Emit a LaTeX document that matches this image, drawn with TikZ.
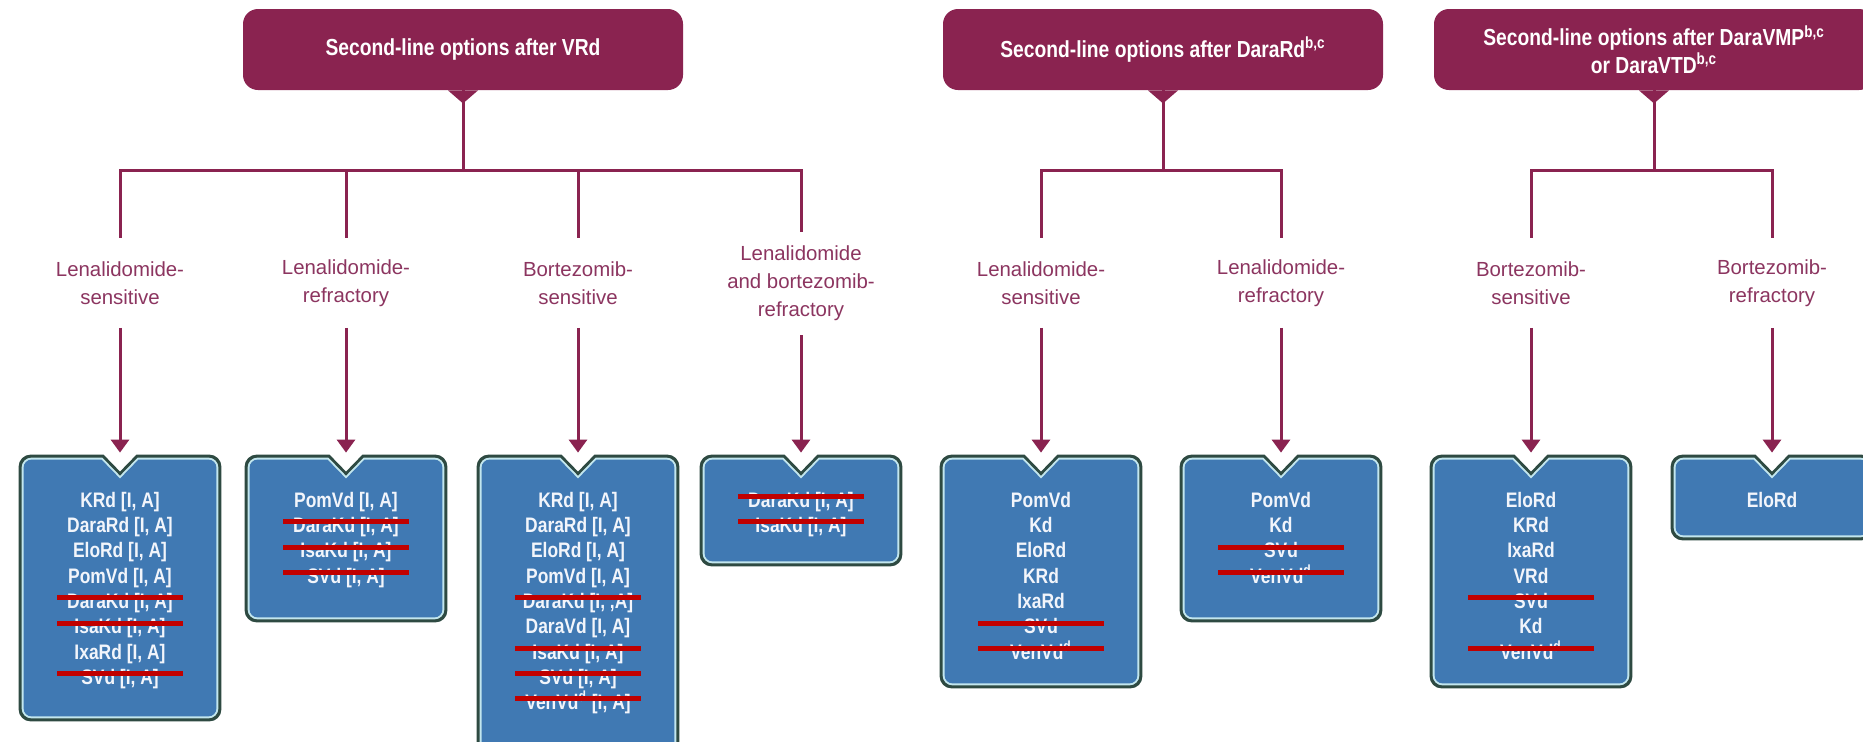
\documentclass[tikz,border=0pt]{standalone}
\usepackage{fontspec}
\setmainfont{Liberation Sans}[FakeStretch=0.83]
\newfontfamily\labfont{Liberation Sans}
\usetikzlibrary{arrows.meta}
\definecolor{maroon}{HTML}{8A2350}
\definecolor{labc}{HTML}{8C3560}
\definecolor{boxblue}{HTML}{4079B3}
\definecolor{boxedge}{HTML}{2E4A42}
\definecolor{boxlight}{HTML}{C2E6EE}
\definecolor{boxtxt}{HTML}{F2F5FB}
\definecolor{strikered}{HTML}{C00000}
\newcommand\strk[1]{\ooalign{\hfil#1\hfil\cr\hfil\textcolor{strikered}{\rule[4.1pt]{63pt}{2.5pt}}\hfil\cr}}
% notched box outline: #1 node, #2 inset, #3 radius
\newcommand\nbpath[3]{%
  ([xshift=8.25pt+0.4*#2, yshift=-#2]#1.north)
  -- ([xshift=-#3-#2, yshift=-#2]#1.north east) arc[start angle=90,end angle=0,radius=#3]
  -- ([xshift=-#2, yshift=#3+#2]#1.south east) arc[start angle=0,end angle=-90,radius=#3]
  -- ([xshift=#3+#2, yshift=#2]#1.south west) arc[start angle=270,end angle=180,radius=#3]
  -- ([xshift=#2, yshift=-#3-#2]#1.north west) arc[start angle=180,end angle=90,radius=#3]
  -- ([xshift=-8.25pt-0.4*#2, yshift=-#2]#1.north)
  -- ([yshift=-8.5pt-1.4*#2]#1.north) -- cycle}
\newcommand\drawnb[1]{%
  \fill[boxedge] \nbpath{#1}{0pt}{6pt};
  \fill[boxlight] \nbpath{#1}{1.5pt}{5pt};
  \fill[boxblue] \nbpath{#1}{2.5pt}{4pt};
}
\tikzset{
  topbox/.style={fill=maroon, rounded corners=7.5pt, minimum width=220pt, minimum height=40.5pt,
    inner sep=0pt, text=white, align=center, font=\bfseries\fontsize{11.6}{11}\selectfont},
  lab/.style={inner sep=0pt, minimum height=44.5pt, text=labc, align=center,
    font=\labfont\fontsize{10.2}{14}\selectfont},
  nb/.style={minimum width=101pt, inner sep=0pt, draw=none},
  btxt/.style={anchor=north, inner sep=0pt, text=boxtxt, align=center,
    font=\bfseries\fontsize{10.5}{12.65}\selectfont},
  conn/.style={draw=maroon, line width=1.5pt},
  arr/.style={conn, -{Triangle[width=9pt,length=6.5pt]}, shorten >=1pt},
}
\begin{document}
\begin{tikzpicture}[x=0.5pt,y=-0.5pt]
\useasboundingbox (0,0) rectangle (1863,741);
\fill[white] (0,0) rectangle (1863,741);

% top boxes
\node[topbox] (t1) at (463,49.5) {Second-line options after VRd};
\node[topbox] (t2) at (1163,49.5) {Second-line options after DaraRd\textsuperscript{b,c}};
\node[topbox] (t3) at (1654,49.5) {Second-line options after DaraVMP\textsuperscript{b,c}\\or DaraVTD\textsuperscript{b,c}};
\foreach \t in {t1,t2,t3}{
  \fill[maroon] ([xshift=-7.5pt]\t.south) -- ([yshift=-6.5pt]\t.south) -- ([xshift=7.5pt]\t.south) -- cycle;
}

% junctions
\coordinate (j1) at (463,170);
\coordinate (j2) at (1163,170);
\coordinate (j3) at (1654,170);

% labels
\node[lab] (l1) at (120,283) {Lenalidomide-\\sensitive};
\node[lab] (l2) at (346,283) {Lenalidomide-\\refractory};
\node[lab] (l3) at (578,283) {Bortezomib-\\sensitive};
\node[lab, minimum height=51.5pt] (l4) at (801,283.5) {Lenalidomide\\and bortezomib-\\refractory};
\node[lab] (l5) at (1041,283) {Lenalidomide-\\sensitive};
\node[lab] (l6) at (1281,283) {Lenalidomide-\\refractory};
\node[lab] (l7) at (1531,283) {Bortezomib-\\sensitive};
\node[lab] (l8) at (1772,283) {Bortezomib-\\refractory};

% boxes
\node[nb, minimum height=133pt] (b1) at (120,588) {};
\node[nb, minimum height=83.5pt] (b2) at (346,538.5) {};
\node[nb, minimum height=150pt] (b3) at (578,605) {};
\node[nb, minimum height=55.5pt] (b4) at (801,510.5) {};
\node[nb, minimum height=116.5pt] (b5) at (1041,571.5) {};
\node[nb, minimum height=83.5pt] (b6) at (1281,538.5) {};
\node[nb, minimum height=116.5pt] (b7) at (1531,571.5) {};
\node[nb, minimum height=42.5pt] (b8) at (1772,497.5) {};
\foreach \b in {b1,b2,b3,b4,b5,b6,b7,b8}{\drawnb{\b}}

% connectors
\draw[conn] (t1.south) -- (j1);
\draw[conn] (j1) -| (l1.north);
\draw[conn] (j1) -| (l4.north);
\draw[conn] (l2.north |- j1) -- (l2.north);
\draw[conn] (l3.north |- j1) -- (l3.north);
\draw[conn] (t2.south) -- (j2);
\draw[conn] (j2) -| (l5.north);
\draw[conn] (j2) -| (l6.north);
\draw[conn] (t3.south) -- (j3);
\draw[conn] (j3) -| (l7.north);
\draw[conn] (j3) -| (l8.north);
\foreach \i in {1,...,8}{\draw[arr] (l\i.south) -- (b\i.north);}

% box texts
\node[btxt] (b1t) at ([yshift=-18.5pt]b1.north) {KRd [I, A]\\DaraRd [I, A]\\EloRd [I, A]\\PomVd [I, A]\\\strk{DaraKd [I, A]}\\\strk{IsaKd [I, A]}\\IxaRd [I, A]\\\strk{SVd [I, A]}};
\node[btxt] (b2t) at ([yshift=-18.5pt]b2.north) {PomVd [I, A]\\\strk{DaraKd [I, A]}\\\strk{IsaKd [I, A]}\\\strk{SVd [I, A]}};
\node[btxt] (b3t) at ([yshift=-18.5pt]b3.north) {KRd [I, A]\\DaraRd [I, A]\\EloRd [I, A]\\PomVd [I, A]\\\strk{DaraKd [I, ,A]}\\DaraVd [I, A]\\\strk{IsaKd [I, A]}\\\strk{SVd [I, A]}\\\strk{VenVd\textsuperscript{d} [I, A]}};
\node[btxt] (b4t) at ([yshift=-18.5pt]b4.north) {\strk{DaraKd [I, A]}\\\strk{IsaKd [I, A]}};
\node[btxt] (b5t) at ([yshift=-18.5pt]b5.north) {PomVd\\Kd\\EloRd\\KRd\\IxaRd\\\strk{SVd}\\\strk{VenVd\textsuperscript{d}}};
\node[btxt] (b6t) at ([yshift=-18.5pt]b6.north) {PomVd\\Kd\\\strk{SVd}\\\strk{VenVd\textsuperscript{d}}};
\node[btxt] (b7t) at ([yshift=-18.5pt]b7.north) {EloRd\\KRd\\IxaRd\\VRd\\\strk{SVd}\\Kd\\\strk{VenVd\textsuperscript{d}}};
\node[btxt] (b8t) at ([yshift=-18.5pt]b8.north) {EloRd};
\end{tikzpicture}
\end{document}
